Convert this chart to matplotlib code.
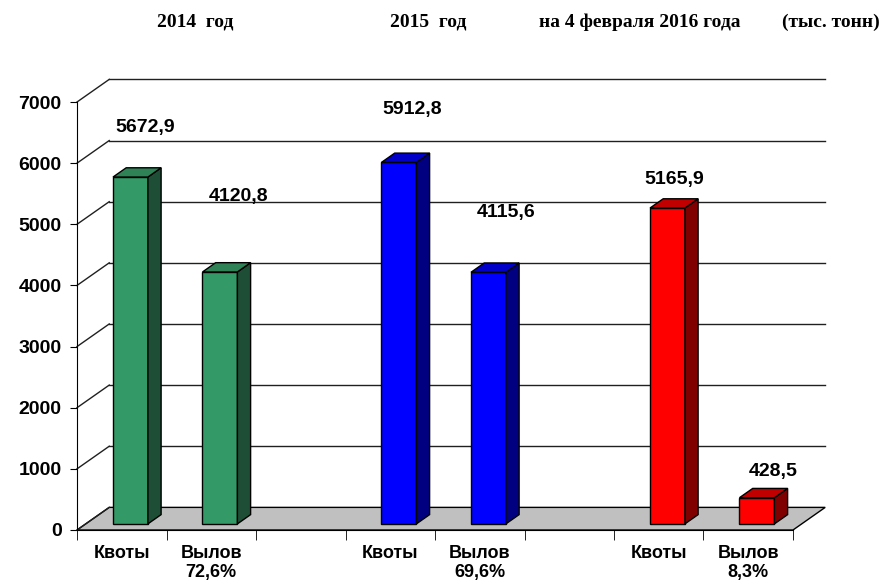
import matplotlib
matplotlib.use('Agg')
import matplotlib.pyplot as plt
from matplotlib.patches import Polygon, Rectangle

# data
categories = ['Квоты', 'Вылов\n72,6%', '', 'Квоты', 'Вылов\n69,6%', '', 'Квоты', 'Вылов\n8,3%']
positions = [0, 1, 3, 4, 6, 7]
values = [5672.9, 4120.8, 5912.8, 4115.6, 5165.9, 428.5]
value_labels = ['5672,9', '4120,8', '5912,8', '4115,6', '5165,9', '428,5']
# label placement (x, y in data units) as laid out in the original
label_xy = [(0.26, 6580), (1.31, 5450), (3.25, 6880), (4.29, 5190), (6.17, 5740), (7.28, 950)]
yticks = list(range(0, 7001, 1000))
titles = [('2014  год', 195), ('2015  год', 428), ('на 4 февраля 2016 года', 640), ('(тыс. тонн)', 831)]

face_cols = ['#339966', '#339966', '#0000FF', '#0000FF', '#FF0000', '#FF0000']
side_cols = ['#1E4F36', '#1E4F36', '#000080', '#000080', '#800000', '#800000']
top_cols = ['#2E8256', '#2E8256', '#0000C8', '#0000C8', '#C00000', '#C00000']

DX, DY = 0.36, 370       # depth offset of back wall (data units)
F1, F2 = 0.27, 0.68      # bar front/back as fraction of depth
W = 0.39                 # bar width

W_PX, H_PX = 887, 587
fig = plt.figure(figsize=(W_PX / 100, H_PX / 100), dpi=100)
x0, x1 = 77, 77 + 89.5 * (8 + DX)
y0, y1 = 530, 530 - 0.06114 * (7000 + DY)
ax = fig.add_axes([x0 / W_PX, 1 - y0 / H_PX, (x1 - x0) / W_PX, (y0 - y1) / H_PX])
ax.set_xlim(-0.5, 7.5 + DX)
ax.set_ylim(0, 7000 + DY)
ax.patch.set_visible(False)

# floor
ax.add_patch(Polygon([(-0.5, 0), (7.5, 0), (7.5 + DX, DY), (-0.5 + DX, DY)],
                     closed=True, facecolor='#C0C0C0', edgecolor='black', lw=1, clip_on=False, zorder=1))
# back wall grid + side wall diagonals
for v in yticks:
    if v > 0:
        ax.plot([-0.5 + DX, 7.5 + DX], [v + DY, v + DY], color='#202020', lw=1, zorder=1, clip_on=False)
    ax.plot([-0.5, -0.5 + DX], [v, v + DY], color='#202020', lw=1, zorder=1, clip_on=False)

# bars
for i, (p, v) in enumerate(zip(positions, values)):
    xl = p + F1 * DX - W / 2
    xr = xl + W
    yb = F1 * DY
    ddx, ddy = (F2 - F1) * DX, (F2 - F1) * DY
    ax.add_patch(Rectangle((xl, yb), W, v, facecolor=face_cols[i], edgecolor='black', lw=1, zorder=3))
    ax.add_patch(Polygon([(xr, yb), (xr + ddx, yb + ddy), (xr + ddx, yb + ddy + v), (xr, yb + v)],
                         closed=True, facecolor=side_cols[i], edgecolor='black', lw=1, zorder=3))
    ax.add_patch(Polygon([(xl, yb + v), (xr, yb + v), (xr + ddx, yb + v + ddy), (xl + ddx, yb + v + ddy)],
                         closed=True, facecolor=top_cols[i], edgecolor='black', lw=1, zorder=3))
    lx, ly = label_xy[i]
    ax.text(lx, ly, value_labels[i], ha='center', va='center', fontsize=14,
            fontweight='bold', family='Liberation Sans', zorder=5)

# axes
for s in ['top', 'right']:
    ax.spines[s].set_visible(False)
ax.spines['left'].set_bounds(0, 7000)
ax.spines['bottom'].set_bounds(-0.5, 7.5)
ax.spines['left'].set_zorder(2)
ax.set_yticks(yticks)
ax.set_yticklabels([str(t) for t in yticks], fontsize=14, fontweight='bold', family='Liberation Sans')
ax.tick_params(axis='y', direction='out', length=5, pad=6)
ax.set_xticks(range(8))
ax.set_xticklabels(categories, fontsize=13, fontweight='bold', family='Liberation Sans', linespacing=1.15)
ax.set_xticks([k - 0.5 for k in range(9)], minor=True)
ax.tick_params(axis='x', which='major', length=0, pad=11)
ax.tick_params(axis='x', which='minor', direction='out', length=7)

for t, xp in titles:
    fig.text(xp / W_PX, 1 - 22 / H_PX, t, ha='center', va='center', fontsize=14,
             fontweight='bold', family='Liberation Serif')

fig.savefig('out.png', dpi=100)
